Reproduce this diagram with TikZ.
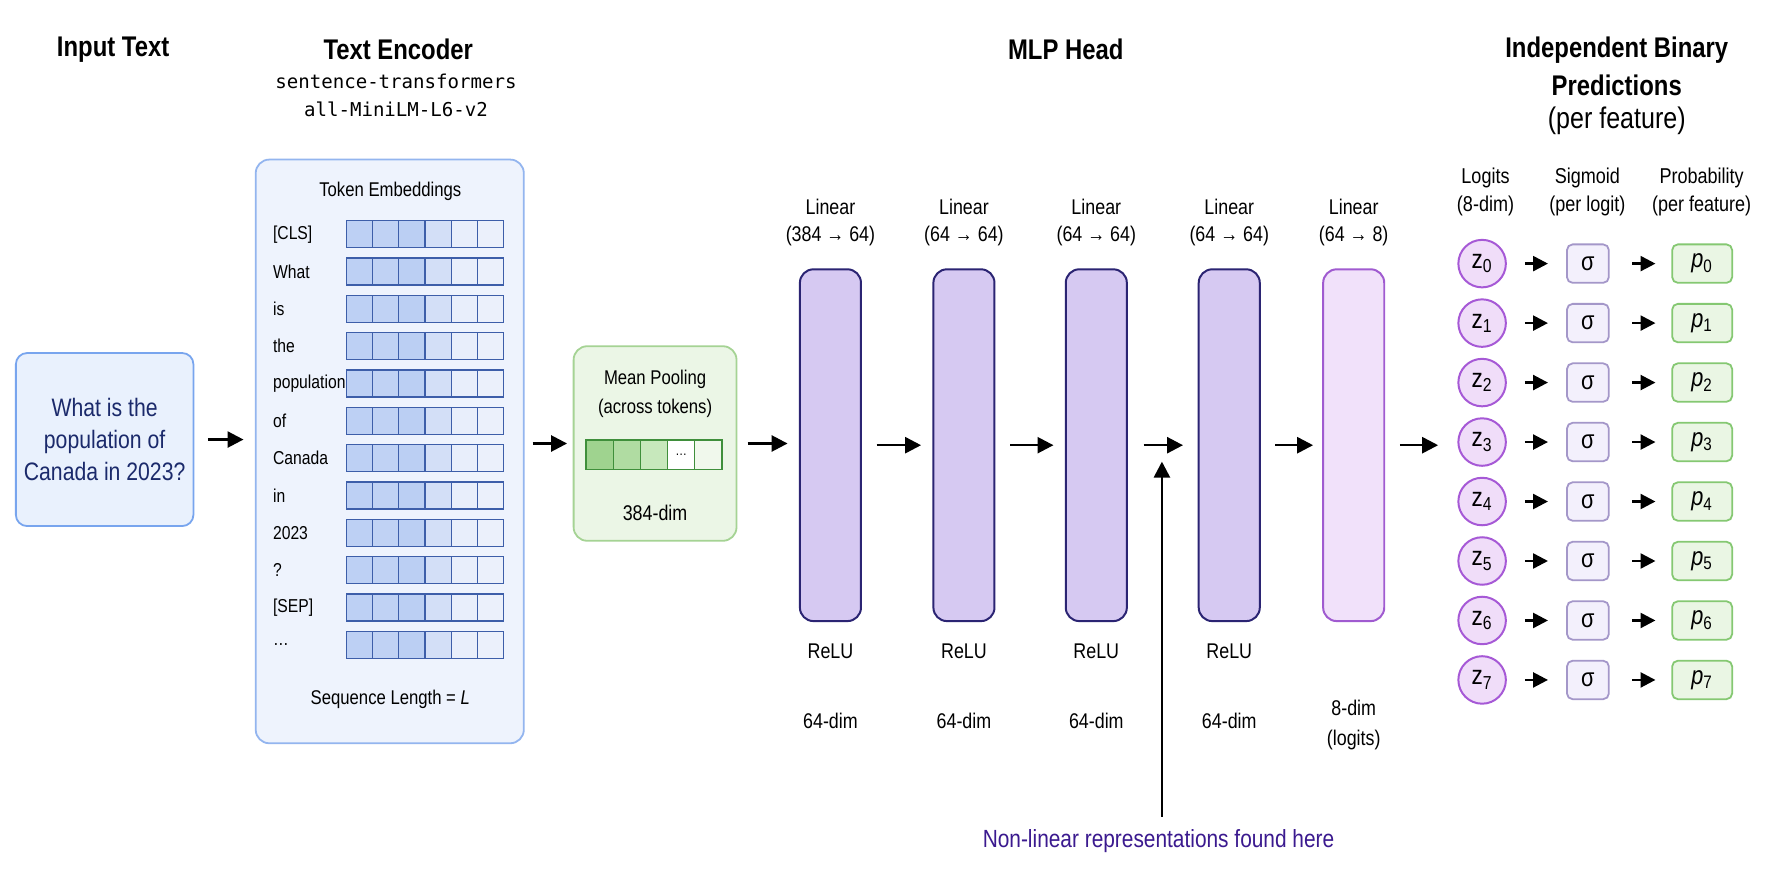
\documentclass[tikz,border=0pt]{standalone}
\usepackage{fontspec}
\setmainfont{Liberation Sans}[FakeStretch=0.84]
\setmonofont{DejaVu Sans Mono}
\usetikzlibrary{arrows.meta,calc}
\definecolor{inFill}{HTML}{E9F1FD}
\definecolor{inDraw}{HTML}{78A5EE}
\definecolor{inText}{HTML}{1B2A6B}
\definecolor{encFill}{HTML}{EEF3FD}
\definecolor{encDraw}{HTML}{93B5EF}
\definecolor{cellDraw}{HTML}{3D5EA9}
\definecolor{cA}{HTML}{BDD0F4}
\definecolor{cB}{HTML}{C0D2F4}
\definecolor{cC}{HTML}{BBCFF3}
\definecolor{cD}{HTML}{D3DFF7}
\definecolor{cE}{HTML}{E8EEFB}
\definecolor{cF}{HTML}{EBF0FB}
\definecolor{poolFill}{HTML}{EBF6E6}
\definecolor{poolDraw}{HTML}{A5D394}
\definecolor{gDraw}{HTML}{3F8F3B}
\definecolor{gA}{HTML}{9FD38F}
\definecolor{gB}{HTML}{B0DCA2}
\definecolor{gC}{HTML}{C7E8BC}
\definecolor{gE}{HTML}{F0F8EC}
\definecolor{mlpFill}{HTML}{D6C9F2}
\definecolor{mlpDraw}{HTML}{2B2473}
\definecolor{outFill}{HTML}{F1E1FA}
\definecolor{outDraw}{HTML}{A05BD0}
\definecolor{zFill}{HTML}{F0DDF9}
\definecolor{zDraw}{HTML}{A659D6}
\definecolor{sFill}{HTML}{F3F0FC}
\definecolor{sDraw}{HTML}{A497C9}
\definecolor{pFill}{HTML}{EAF6E4}
\definecolor{pDraw}{HTML}{85C872}
\definecolor{nlText}{HTML}{3B1A8F}
\begin{document}
\begin{tikzpicture}[x=0.02cm,y=-0.02cm,
  ttl/.style={font=\fontsize{14.3}{16}\selectfont\bfseries, inner sep=0pt},
  subttl/.style={font=\fontsize{15}{17}\selectfont, inner sep=0pt},
  mono/.style={font=\ttfamily\fontsize{9.6}{11}\selectfont, inner sep=0pt},
  lbl/.style={font=\fontsize{10}{12}\selectfont, inner sep=0pt},
  toklbl/.style={font=\fontsize{9.4}{11}\selectfont, inner sep=0pt, anchor=west},
  mlbl/.style={font=\fontsize{10.7}{13}\selectfont, inner sep=0pt},
  hlbl/.style={font=\fontsize{10.8}{13}\selectfont, inner sep=0pt},
  inbox/.style={draw=inDraw, line width=0.9pt, fill=inFill, rounded corners=0.2cm,
    minimum width=3.14cm, minimum height=3.06cm, align=center, text=inText,
    font=\fontsize{12.7}{16.2}\selectfont},
  encbox/.style={draw=encDraw, line width=0.9pt, fill=encFill, rounded corners=0.24cm,
    minimum width=4.74cm, minimum height=10.32cm},
  cell/.style={draw=cellDraw, line width=0.7pt, minimum width=0.464cm, minimum height=0.48cm, inner sep=0pt},
  poolbox/.style={draw=poolDraw, line width=0.9pt, fill=poolFill, rounded corners=0.24cm,
    minimum width=2.88cm, minimum height=3.44cm},
  gcell/.style={draw=gDraw, line width=0.7pt, minimum width=0.48cm, minimum height=0.52cm, inner sep=0pt,
    font=\fontsize{7}{8}\selectfont},
  mlpbox/.style={draw=mlpDraw, line width=1pt, fill=mlpFill, rounded corners=0.24cm,
    minimum width=1.08cm, minimum height=6.22cm},
  outbox/.style={draw=outDraw, line width=1pt, fill=outFill, rounded corners=0.24cm,
    minimum width=1.08cm, minimum height=6.22cm},
  zc/.style={circle, draw=zDraw, line width=1pt, fill=zFill, minimum size=0.84cm, inner sep=0pt,
    font=\fontsize{13.5}{15}\selectfont},
  sbox/.style={draw=sDraw, line width=0.9pt, fill=sFill, rounded corners=0.1cm,
    minimum width=0.74cm, minimum height=0.68cm, inner sep=0pt, font=\fontsize{13}{15}\selectfont},
  pbox/.style={draw=pDraw, line width=0.9pt, fill=pFill, rounded corners=0.1cm,
    minimum width=1.06cm, minimum height=0.68cm, inner sep=0pt, font=\fontsize{13}{15}\selectfont},
  arr/.style={line width=1.3pt, -{Triangle[length=8pt,width=8pt]}},
  sarr/.style={line width=1.3pt, -{Triangle[length=7.5pt,width=7.5pt]}},
]
\useasboundingbox[fill=white] (0,0) rectangle (1568,784);

% titles
\node[ttl] (t1) at (100,44) {Input Text};
\node[ttl] (t2) at (352,44) {Text Encoder};
\node[mono] (m1) at (350,72) {sentence-transformers};
\node[mono] (m2) at (350,97) {all-MiniLM-L6-v2};
\node[ttl] (t3) at (942,44) {MLP Head};
\node[ttl] (t4a) at (1429,44) {Independent Binary};
\node[ttl] (t4b) at (1429,75) {Predictions};
\node[subttl] (t4c) at (1429,107) {(per feature)};

% input
\node[inbox] (inp) at (92.5,388.5) {What is the\\population of\\Canada in 2023?};

% encoder
\node[encbox] (enc) at (344.5,399) {};
\node[lbl] (tokhdr) at (345,169) {Token Embeddings};
\foreach \t [count=\i from 0] in {{[CLS]},What,is,the,population,of,Canada,in,2023,?,{[SEP]},…}{
  \node[toklbl] (tok\i) at (241,{207+33*\i}) {\t};
  \foreach \col [count=\c from 0] in {cA,cB,cC,cD,cE,cF}{
    \node[cell, fill=\col] (cell\i-\c) at ({317.6+23.2*\c},{207+33*\i}) {};
  }
}
\node[lbl] (seql) at (345,618) {Sequence Length = \textit{L}};

% pooling
\node[poolbox] (pool) at (579,392) {};
\node[lbl] (pl1) at (579,335) {Mean Pooling};
\node[lbl] (pl2) at (579,361) {(across tokens)};
\node[gcell, fill=gA] (g0) at (530,402) {};
\node[gcell, fill=gB] (g1) at (554,402) {};
\node[gcell, fill=gC] (g2) at (578,402) {};
\node[gcell, fill=white] (g3) at (602,402) {…};
\node[gcell, fill=gE] (g4) at (626,402) {};
\node[mlbl] (pdim) at (579,453) {384-dim};

% MLP
\node[mlpbox] (l1) at (734,393.5) {};
\node[mlpbox] (l2) at (852,393.5) {};
\node[mlpbox] (l3) at (969,393.5) {};
\node[mlpbox] (l4) at (1086.5,393.5) {};
\node[outbox] (l5) at (1196.5,393.5) {};
\foreach \n/\x/\s in {l1/734/{(384 → 64)}, l2/852/{(64 → 64)}, l3/969/{(64 → 64)}, l4/1086.5/{(64 → 64)}, l5/1196.5/{(64 → 8)}}{
  \node[mlbl] (\n lin) at (\x,183) {Linear};
  \node[mlbl] (\n dims) at (\x,209) {\s};
}
\foreach \n/\x in {l1/734, l2/852, l3/969, l4/1086.5}{
  \node[mlbl] (\n relu) at (\x,576) {ReLU};
  \node[mlbl] (\n out) at (\x,637) {64-dim};
}
\node[mlbl] (l5out) at (1196.5,626) {8-dim};
\node[mlbl] (l5log) at (1196.5,654) {(logits)};

% right section headers
\node[hlbl] (hz1) at (1313,157) {Logits};
\node[hlbl] (hz2) at (1313,182) {(8-dim)};
\node[hlbl] (hs1) at (1403,157) {Sigmoid};
\node[hlbl] (hs2) at (1403,182) {(per logit)};
\node[hlbl] (hp1) at (1504,157) {Probability};
\node[hlbl] (hp2) at (1504,182) {(per feature)};

\foreach \i in {0,...,7}{
  \node[zc] (z\i) at (1310,{233+52.57*\i}) {z\textsubscript{\i}};
  \node[sbox] (s\i) at (1403.5,{233+52.57*\i}) {σ};
  \node[pbox] (p\i) at (1504.5,{233+52.57*\i}) {\textit{p}\textsubscript{\i}};
  \draw[sarr, shorten <=0.32cm, shorten >=0.32cm] (z\i) -- (s\i);
  \draw[sarr, shorten <=0.4cm, shorten >=0.28cm] (s\i) -- (p\i);
}

% main arrows
\draw[arr, shorten <=0.24cm, shorten >=0.2cm] (inp.east) -- (inp.east -| enc.west);
\draw[arr, shorten <=0.14cm, shorten >=0.1cm] (enc.east |- pool.west) -- (pool.west);
\draw[arr, shorten <=0.18cm, shorten >=0.2cm] (pool.east) -- (pool.east -| l1.west);
\draw[arr, shorten <=0.26cm, shorten >=0.2cm] (l1.east) -- (l2.west);
\draw[arr, shorten <=0.26cm, shorten >=0.2cm] (l2.east) -- (l3.west);
\draw[arr, shorten <=0.28cm, shorten >=0.26cm] (l3.east) -- (l4.west);
\draw[arr, shorten <=0.26cm, shorten >=0.16cm] (l4.east) -- (l5.west);
\draw[arr, shorten <=0.26cm, shorten >=0.34cm] (l5.east) -- (l5.east -| z3.west);

% annotation
\node[font=\fontsize{12.5}{15}\selectfont, text=nlText, inner sep=0pt] (nl) at (1024,743) {Non-linear representations found here};
\coordinate (nlstart) at (1027,722);
\coordinate (nlend) at (1027,408);
\draw[arr] (nlstart) -- (nlend);
\end{tikzpicture}
\end{document}
